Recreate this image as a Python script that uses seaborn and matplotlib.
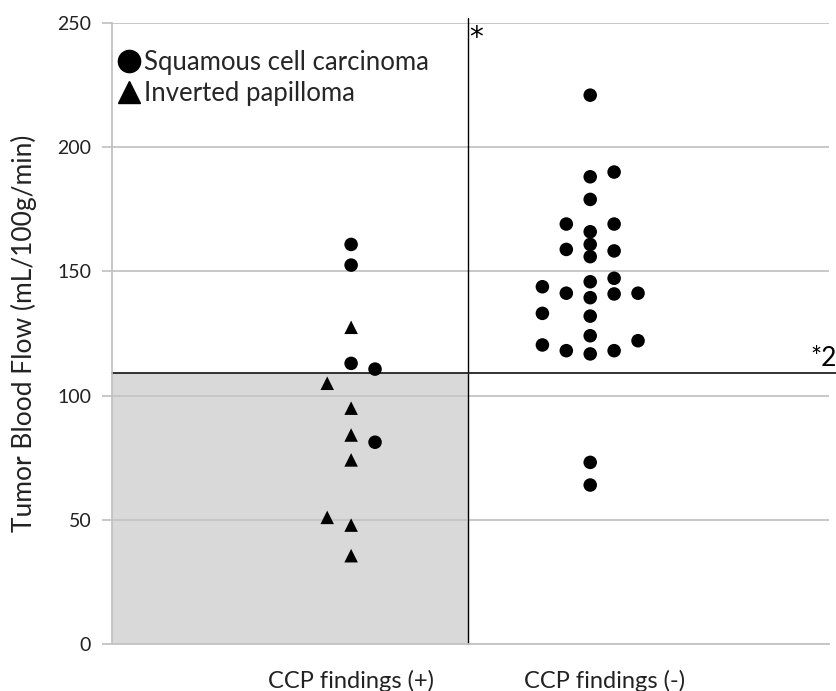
import matplotlib
matplotlib.use("Agg")
import matplotlib.pyplot as plt
from matplotlib.lines import Line2D
from matplotlib.patches import Rectangle
import seaborn as sns
import pandas as pd

# ---- data ----
groups = ["CCP findings (+)", "CCP findings (-)"]

# CCP findings (+)
pos_values = [160.8, 152.5, 127.5, 113.0, 110.7, 105.0, 95.0, 84.2, 81.3, 74.2, 51.1, 48.0, 35.7]
pos_types = ["SCC", "SCC", "IP", "SCC", "SCC", "IP", "IP", "IP", "SCC", "IP", "IP", "IP", "IP"]
pos_slot = [0, 0, 0, 0, 1, -1, 0, 0, 1, 0, -1, 0, 0]

# CCP findings (-)
neg_values = [220.8, 189.9, 188.0, 178.9, 169.0, 169.0, 165.9, 160.8, 158.8, 158.2,
              155.9, 147.2, 145.8, 143.8, 141.2, 139.4, 140.9, 141.2, 133.1, 132.0,
              124.1, 122.1, 120.4, 118.1, 116.8, 118.1, 73.2, 64.1]
neg_types = ["SCC"] * len(neg_values)
neg_slot = [0, 1, 0, 0, -1, 1, 0, 0, -1, 1,
            0, 1, 0, -2, -1, 0, 1, 2, -2, 0,
            0, 2, -2, -1, 0, 1, 0, 0]

cutoff = 109.0
yticks = [0, 50, 100, 150, 200, 250]
legend_labels = ["Squamous cell carcinoma", "Inverted papilloma"]
ylabel = "Tumor Blood Flow (mL/100g/min)"

# ---- build table ----
slot_width = 0.1
rows = []
for gi, (vals, types, slots) in enumerate([(pos_values, pos_types, pos_slot),
                                          (neg_values, neg_types, neg_slot)]):
    for v, t, s in zip(vals, types, slots):
        rows.append({"group": groups[gi], "x": gi + 1 + s * slot_width, "value": v, "type": t})
df = pd.DataFrame(rows)

sns.set_theme(style="white")
plt.rcParams["font.family"] = ["Lato", "DejaVu Sans"]

fig = plt.figure(figsize=(8.36, 6.91), dpi=100)
ax = fig.add_axes([0.134, 0.0673, 0.858, 0.9001])

grid_c = "#c4c4c4"
ax.set_axisbelow(True)
ax.yaxis.grid(True, color=grid_c, linewidth=1.3)
ax.xaxis.grid(False)

# shaded region
ax.add_patch(Rectangle((0, 0), 1.49, cutoff, facecolor="#d9d9d9", edgecolor="none", zorder=0.2))

sns.scatterplot(data=df, x="x", y="value", style="type",
                markers={"SCC": "o", "IP": "^"}, color="black",
                s=95, edgecolor="none", legend=False, ax=ax, zorder=3)

# threshold lines
ax.plot([1.49, 1.49], [0, 252], color="black", linewidth=1.0, clip_on=False, zorder=2)
ax.plot([0, 3.03], [cutoff, cutoff], color="#222222", linewidth=1.3, clip_on=False, zorder=2)
ax.text(1.496, 249.5, "*", fontsize=20, va="top", ha="left", color="black",
        family="DejaVu Sans")
ax.text(3.03, cutoff + 0.8, "*2", fontsize=19, va="bottom", ha="right", color="black",
        clip_on=False)

ax.set_xlim(0, 3)
ax.set_ylim(0, 250)
ax.set_yticks(yticks)
ax.set_yticklabels([str(t) for t in yticks], fontsize=14, color="#222222")
ax.set_xticks([1, 2.06])
ax.set_xticklabels(groups, fontsize=17, color="#222222")
ax.tick_params(axis="x", length=0, pad=18)
ax.tick_params(axis="y", length=7, width=1.2, color="#bfbfbf", pad=8, direction="out", left=True)
ax.set_xlabel("")
ax.set_ylabel(ylabel, fontsize=19, color="#222222")
ax.yaxis.set_label_coords(-0.104, 0.5)

for s in ["top", "right"]:
    ax.spines[s].set_visible(False)
ax.spines["left"].set_color("#bfbfbf")
ax.spines["left"].set_linewidth(1.2)
ax.spines["bottom"].set_color(grid_c)
ax.spines["bottom"].set_linewidth(1.3)

handles = [Line2D([], [], marker="o", linestyle="none", color="black", markersize=16),
           Line2D([], [], marker="^", linestyle="none", color="black", markersize=16)]
ax.legend(handles, legend_labels, loc="upper left", bbox_to_anchor=(-0.017, 0.98),
          frameon=False, fontsize=18.5, handletextpad=0.0, handlelength=1.1,
          labelspacing=0.2, borderaxespad=0.2)

fig.savefig("out.png", dpi=100)
